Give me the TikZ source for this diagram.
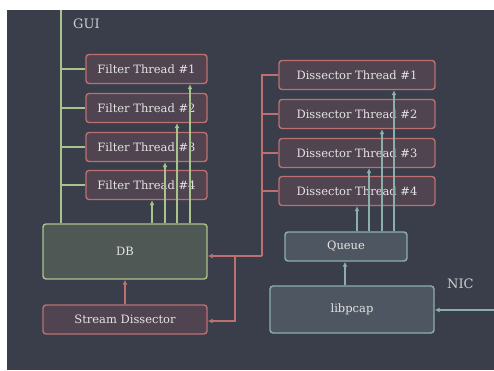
\documentclass[tikz,border=0pt]{standalone}
\usepackage{fontspec}
\setmainfont{DejaVu Serif}
\usetikzlibrary{arrows.meta,calc}
\definecolor{bg}{RGB}{58,62,75}
\definecolor{redfill}{RGB}{80,68,80}
\definecolor{redline}{RGB}{190,112,112}
\definecolor{grnfill}{RGB}{80,88,86}
\definecolor{grnline}{RGB}{170,195,140}
\definecolor{tealfill}{RGB}{78,86,98}
\definecolor{tealline}{RGB}{140,175,172}
\definecolor{txt}{RGB}{228,228,228}
\tikzset{
  x=1pt,y=-1pt,
  box/.style={draw, rounded corners=3pt, line width=1.4pt, inner sep=0pt, text=txt,
    font=\fontsize{11.5}{13}\selectfont},
  redbox/.style={box, draw=redline, fill=redfill},
  grnbox/.style={box, draw=grnline, fill=grnfill},
  tealbox/.style={box, draw=tealline, fill=tealfill},
  conn/.style={line width=1.6pt},
  tip/.style={-{Latex[length=5pt,width=5pt]}},
  lbl/.style={text={rgb,255:red,205;green,205;blue,205}, font=\fontsize{13}{15}\selectfont, inner sep=0pt}
}
\begin{document}
\begin{tikzpicture}
\useasboundingbox (0,0) rectangle (494,371);
\fill[white] (0,0) rectangle (494,371);
\fill[bg] (7,10) rectangle (494,370);
% filter threads
\node[redbox, minimum width=121pt, minimum height=29pt] (f1) at (146.5,69) {Filter Thread \#1};
\node[redbox, minimum width=121pt, minimum height=29pt] (f2) at (146.5,108) {Filter Thread \#2};
\node[redbox, minimum width=121pt, minimum height=29pt] (f3) at (146.5,147) {Filter Thread \#3};
\node[redbox, minimum width=121pt, minimum height=29pt] (f4) at (146.5,185) {Filter Thread \#4};
% DB and stream dissector
\node[grnbox, minimum width=164pt, minimum height=55pt] (db) at (125,251.5) {DB};
\node[redbox, minimum width=164pt, minimum height=29pt] (sd) at (125,319.5) {Stream Dissector};
% dissector threads
\node[redbox, minimum width=156pt, minimum height=29pt] (d1) at (357,75) {Dissector Thread \#1};
\node[redbox, minimum width=156pt, minimum height=29pt] (d2) at (357,114) {Dissector Thread \#2};
\node[redbox, minimum width=156pt, minimum height=29pt] (d3) at (357,153) {Dissector Thread \#3};
\node[redbox, minimum width=156pt, minimum height=29pt] (d4) at (357,191) {Dissector Thread \#4};
% queue, libpcap
\node[tealbox, minimum width=122pt, minimum height=29pt] (q) at (346,246.5) {Queue};
\node[tealbox, minimum width=164pt, minimum height=47pt] (lp) at (352,309.5) {libpcap};
% labels
\node[lbl, anchor=west] (gui) at (73,24) {GUI};
\node[lbl, anchor=west] (nic) at (447,284) {NIC};
% coordinates
\coordinate (guitop) at (61,10);
\coordinate (fa) at (152,0);
\coordinate (fb) at (165,0);
\coordinate (fc) at (177,0);
\coordinate (fd) at (190,0);
\coordinate (da) at (357,0);
\coordinate (db2) at (369,0);
\coordinate (dc) at (382,0);
\coordinate (dd) at (394,0);
\coordinate (qa) at (345,0);
\coordinate (rbus) at (262,256);
\coordinate (rbr) at (235,256);
\coordinate (sdy) at (0,321);
\coordinate (nicin) at (494,310);
% GUI bus
\draw[conn, grnline] (guitop) -- (guitop |- db.north);
\foreach \n in {f1,f2,f3,f4} \draw[conn, grnline] (\n.west -| guitop) -- (\n.west);
% DB to filter threads
\draw[conn, grnline, tip] (db.north -| fa) -- (f4.south -| fa);
\draw[conn, grnline, tip] (db.north -| fb) -- (f3.south -| fb);
\draw[conn, grnline, tip] (db.north -| fc) -- (f2.south -| fc);
\draw[conn, grnline, tip] (db.north -| fd) -- (f1.south -| fd);
% SD to DB
\draw[conn, redline, tip] (sd.north) -- (db.south);
% red bus from dissector threads
\draw[conn, redline] (d1.west) -| (rbus);
\foreach \n in {d2,d3,d4} \draw[conn, redline] (\n.west -| rbus) -- (\n.west);
\draw[conn, redline, tip] (rbus) -- (db.east |- rbus);
\draw[conn, redline, tip] (rbr) |- (sd.east |- sdy);
% queue to dissector threads
\draw[conn, tealline, tip] (q.north -| da) -- (d4.south -| da);
\draw[conn, tealline, tip] (q.north -| db2) -- (d3.south -| db2);
\draw[conn, tealline, tip] (q.north -| dc) -- (d2.south -| dc);
\draw[conn, tealline, tip] (q.north -| dd) -- (d1.south -| dd);
% libpcap to queue
\draw[conn, tealline, tip] (lp.north -| qa) -- (q.south -| qa);
% NIC
\draw[conn, tealline, tip] (nicin) -- (lp.east |- nicin);
\end{tikzpicture}
\end{document}
